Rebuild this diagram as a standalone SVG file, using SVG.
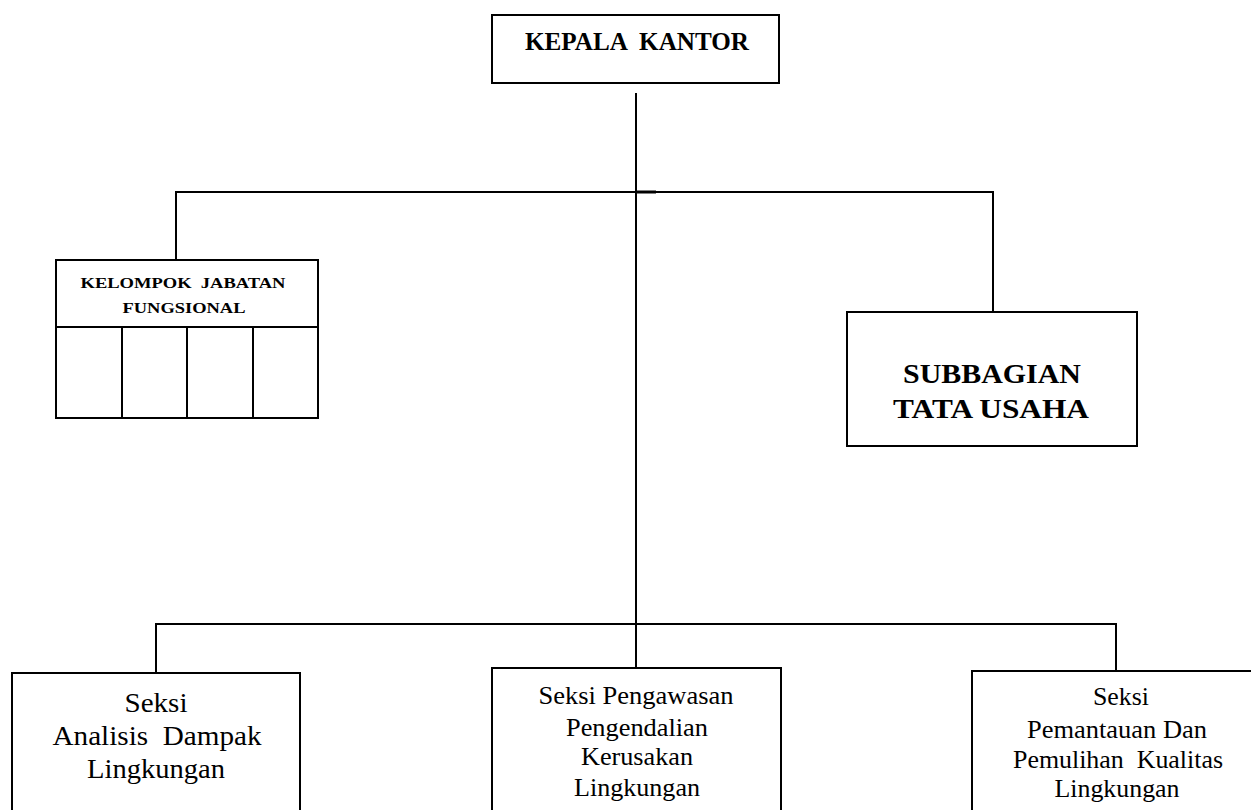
<svg xmlns="http://www.w3.org/2000/svg" width="1251" height="810" viewBox="0 0 1251 810">
<style>
.box{fill:#fff;stroke:#000;stroke-width:2}
.ln{fill:none;stroke:#000;stroke-width:2}
.t{font-family:'Liberation Serif','Times New Roman',Times,serif;fill:#000;text-anchor:middle;white-space:pre}
.b{font-weight:bold}
</style>
<rect width="1251" height="810" fill="#fff"/>
<g id="connectors">
<line class="ln" x1="636" y1="93" x2="636" y2="624"/>
<polyline class="ln" points="176,260 176,192 993,192 993,312"/>
<line x1="636" y1="192" x2="656" y2="192" stroke="#000" stroke-width="3"/>
<line class="ln" x1="155" y1="624" x2="1117" y2="624"/>
<line class="ln" x1="156" y1="624" x2="156" y2="673"/>
<line class="ln" x1="636" y1="624" x2="636" y2="668"/>
<line class="ln" x1="1116" y1="624" x2="1116" y2="671"/>
</g>
<g id="kepala">
<rect class="box" x="492" y="15" width="287" height="68"/>
<text class="t b" x="637" y="50" font-size="26" textLength="224" lengthAdjust="spacingAndGlyphs" xml:space="preserve">KEPALA  KANTOR</text>
</g>
<g id="fungsional">
<rect class="box" x="56" y="260" width="262" height="158"/>
<line class="ln" x1="56" y1="327" x2="318" y2="327"/>
<line class="ln" x1="122" y1="327" x2="122" y2="418"/>
<line class="ln" x1="187" y1="327" x2="187" y2="418"/>
<line class="ln" x1="253" y1="327" x2="253" y2="418"/>
<text class="t b" x="183" y="288" font-size="15" textLength="205" lengthAdjust="spacingAndGlyphs" xml:space="preserve">KELOMPOK  JABATAN</text>
<text class="t b" x="184" y="313" font-size="15" textLength="123" lengthAdjust="spacingAndGlyphs">FUNGSIONAL</text>
</g>
<g id="subbagian">
<rect class="box" x="847" y="312" width="290" height="134"/>
<text class="t b" x="992" y="383" font-size="27" textLength="178" lengthAdjust="spacingAndGlyphs">SUBBAGIAN</text>
<text class="t b" x="991" y="418" font-size="27" textLength="196" lengthAdjust="spacingAndGlyphs">TATA USAHA</text>
</g>
<g id="seksi-amdal">
<rect class="box" x="12" y="673" width="288" height="150"/>
<text class="t" x="156" y="712" font-size="28" textLength="63" lengthAdjust="spacingAndGlyphs">Seksi</text>
<text class="t" x="157" y="745" font-size="28" textLength="209" lengthAdjust="spacingAndGlyphs" xml:space="preserve">Analisis  Dampak</text>
<text class="t" x="156" y="778" font-size="28" textLength="138" lengthAdjust="spacingAndGlyphs">Lingkungan</text>
</g>
<g id="seksi-pengawasan">
<rect class="box" x="492" y="668" width="289" height="155"/>
<text class="t" x="636" y="704" font-size="25" textLength="195" lengthAdjust="spacingAndGlyphs">Seksi Pengawasan</text>
<text class="t" x="637" y="736" font-size="25" textLength="142" lengthAdjust="spacingAndGlyphs">Pengendalian</text>
<text class="t" x="637" y="765" font-size="25" textLength="112" lengthAdjust="spacingAndGlyphs">Kerusakan</text>
<text class="t" x="637" y="796" font-size="25" textLength="126" lengthAdjust="spacingAndGlyphs">Lingkungan</text>
</g>
<g id="seksi-pemantauan">
<rect class="box" x="972" y="671" width="294" height="152"/>
<text class="t" x="1121" y="705" font-size="25" textLength="56" lengthAdjust="spacingAndGlyphs">Seksi</text>
<text class="t" x="1117" y="738" font-size="25" textLength="180" lengthAdjust="spacingAndGlyphs">Pemantauan Dan</text>
<text class="t" x="1118" y="768" font-size="25" textLength="210" lengthAdjust="spacingAndGlyphs" xml:space="preserve">Pemulihan  Kualitas</text>
<text class="t" x="1117" y="797" font-size="25" textLength="125" lengthAdjust="spacingAndGlyphs">Lingkungan</text>
</g>
</svg>
